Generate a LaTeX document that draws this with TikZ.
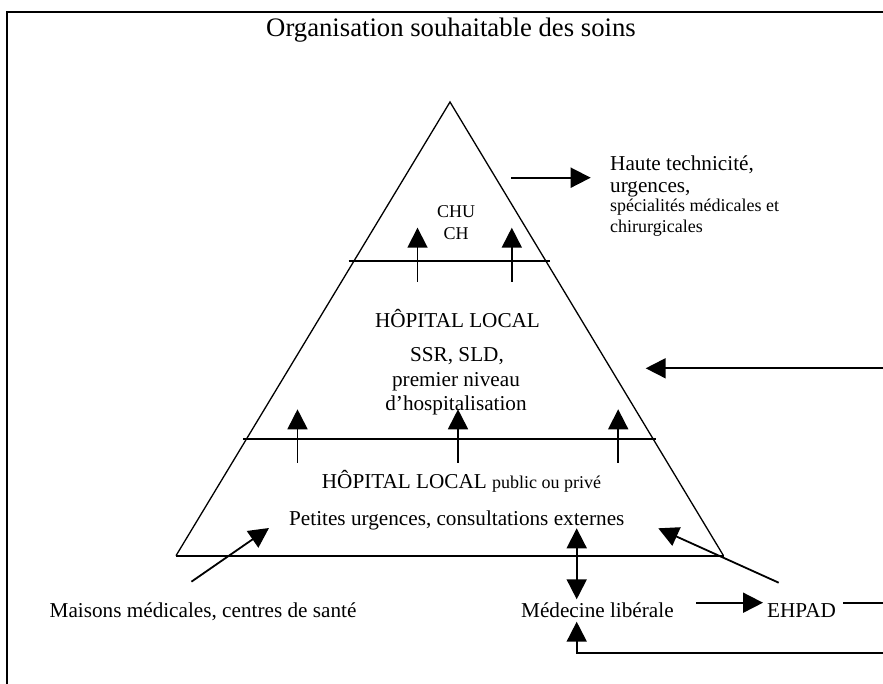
\documentclass[tikz,border=0pt]{standalone}
\usepackage{fontspec}
\setmainfont{Liberation Serif}
\usetikzlibrary{arrows.meta}
\begin{document}
\begin{tikzpicture}[x=1pt,y=-1pt,
  body/.style={font=\fontsize{21.2}{25}\selectfont, inner sep=0pt},
  small/.style={font=\fontsize{18}{21}\selectfont, inner sep=0pt},
  ttl/.style={font=\fontsize{26.7}{30}\selectfont, inner sep=0pt},
  frame/.style={line width=2pt, line join=miter},
  side/.style={line width=1.3pt},
  level/.style={line width=1.7pt},
  arr/.style={line width=1.8pt, -{Triangle[length=20pt,width=20pt]}},
  darr/.style={line width=1.8pt, {Triangle[length=20pt,width=20pt]}-{Triangle[length=20pt,width=20pt]}},
  plain/.style={line width=1.8pt},
]
\useasboundingbox (0,0) rectangle (883,684);
% frame
\coordinate (fbl) at (7,684);
\coordinate (ftl) at (7,12);
\coordinate (ftr) at (883,12);
\draw[frame] (fbl) -- (ftl) -- (ftr);

% pyramid
\coordinate (apex) at (450,102);
\coordinate (bl) at (176,555.7);
\coordinate (br) at (723.5,555.7);
\draw[side] (bl) -- (apex) -- (br);
\draw[level] (bl) -- (br);
\coordinate (u1) at (348.6,261.3);
\coordinate (u2) at (550.4,261.3);
\draw[level] (u1) -- (u2);
\coordinate (m1) at (243,439);
\coordinate (m2) at (656.4,439);
\draw[level] (m1) -- (m2);

% texts
\node[ttl, anchor=base] (title) at (451,37) {Organisation souhaitable des soins};
\node[small, anchor=base] (chu) at (456,217.7) {CHU};
\node[small, anchor=base] (ch) at (456,240) {CH};
\node[body, anchor=base] (hl1) at (457.5,327) {HÔPITAL LOCAL};
\node[body, anchor=base] (ssr) at (457,361.7) {SSR, SLD,};
\node[body, anchor=base] (pn) at (456,386.5) {premier niveau};
\node[body, anchor=base] (dh) at (456,410.7) {d’hospitalisation};
\node[body, anchor=base west] (hl2) at (321.7,488.3) {HÔPITAL LOCAL {\fontsize{18}{21}\selectfont public ou privé}};
\node[body, anchor=base west] (pu) at (289,525) {Petites urgences, consultations externes};
\node[body, anchor=base west] (mm) at (49.5,617) {Maisons médicales, centres de santé};
\node[body, anchor=base west] (ml) at (521,617) {Médecine libérale};
\node[body, anchor=base west] (eh) at (767,617) {EHPAD};
\node[body, anchor=base west] (ht1) at (610,171) {Haute technicité,};
\node[body, anchor=base west] (ht2) at (610,193) {urgences,};
\node[small, anchor=base west] (ht3) at (610,212) {spécialités médicales et};
\node[small, anchor=base west] (ht4) at (610,233) {chirurgicales};

% arrows in top section
\coordinate (a1s) at (417.5,281.7); \coordinate (a1e) at (417.5,227.7);
\coordinate (a2s) at (511.8,281.7); \coordinate (a2e) at (511.8,227.7);
\draw[arr] (a1s) -- (a1e);
\draw[arr] (a2s) -- (a2e);
% arrows in lower section
\coordinate (b1s) at (297.5,462.7); \coordinate (b1e) at (297.5,409.3);
\coordinate (b2s) at (458,462.7); \coordinate (b2e) at (458,409.3);
\coordinate (b3s) at (618.2,462.7); \coordinate (b3e) at (618.2,409.3);
\draw[arr] (b1s) -- (b1e);
\draw[arr] (b2s) -- (b2e);
\draw[arr] (b3s) -- (b3e);
% top right arrow
\coordinate (trs) at (511,177.7); \coordinate (tre) at (590.7,177.7);
\draw[arr] (trs) -- (tre);
% right arrow
\coordinate (rs) at (883,368.3); \coordinate (re) at (645.7,368.3);
\draw[arr] (rs) -- (re);
% bottom arrows
\coordinate (mms) at (191.4,581.7); \coordinate (mme) at (269,528);
\draw[arr] (mms) -- (mme);
\coordinate (ehs) at (778.7,582.7); \coordinate (ehe) at (658.3,528.3);
\draw[arr] (ehs) -- (ehe);
\coordinate (dbt) at (576.7,528.3); \coordinate (dbb) at (576.7,599.3);
\draw[darr] (dbt) -- (dbb);
\coordinate (mes) at (696,602.7); \coordinate (mee) at (763,602.7);
\draw[arr] (mes) -- (mee);
\coordinate (eos) at (843,602.7); \coordinate (eoe) at (883,602.7);
\draw[plain] (eos) -- (eoe);
\coordinate (rts) at (883,652.7); \coordinate (rte) at (576.7,621.7);
\draw[arr] (rts) -| (rte);
\end{tikzpicture}
\end{document}
